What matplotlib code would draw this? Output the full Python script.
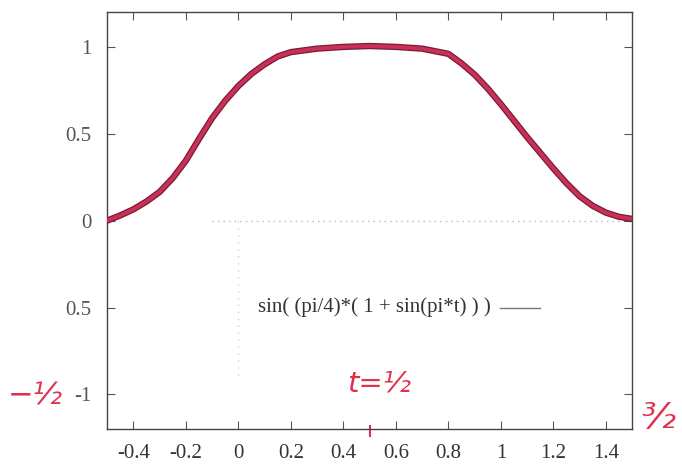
import matplotlib
matplotlib.use("Agg")
import matplotlib.pyplot as plt

# values
t_vals = [-0.5, -0.45, -0.4, -0.35, -0.3, -0.25, -0.2, -0.15, -0.1, -0.05, 0.0,
          0.05, 0.1, 0.15, 0.2, 0.3, 0.4, 0.5, 0.6, 0.7, 0.8, 0.85, 0.9, 0.95,
          1.0, 1.05, 1.1, 1.15, 1.2, 1.25, 1.3, 1.35, 1.4, 1.45, 1.5]
y_vals = [0.0, 0.03, 0.065, 0.11, 0.165, 0.245, 0.345, 0.47, 0.59, 0.69, 0.775,
          0.845, 0.90, 0.945, 0.97, 0.99, 1.0, 1.005, 1.0, 0.99, 0.96, 0.905, 0.84, 0.76,
          0.67, 0.575, 0.48, 0.39, 0.30, 0.215, 0.14, 0.085, 0.046, 0.022, 0.01]
x_ticks = [-0.4, -0.2, 0, 0.2, 0.4, 0.6, 0.8, 1, 1.2, 1.4]
x_ticklabels = ["-0.4", "-0.2", "0", "0.2", "0.4", "0.6", "0.8", "1", "1.2", "1.4"]
y_ticks = [1, 0.5, 0, -0.5, -1]
y_ticklabels = ["1", "0.5", "0", "0.5", "-1"]
legend_label = "sin( (pi/4)*( 1 + sin(pi*t) ) )"

serif = ["Liberation Serif", "DejaVu Serif"]

fig = plt.figure(figsize=(6.82, 4.67), dpi=100)
ax = fig.add_axes([0.157, 0.081, 0.770, 0.893])

# faint zero axes
ax.plot([-0.1, 1.5], [0, 0], color="#b8b8b8", lw=1.0, ls=(0, (1, 3)), zorder=1)
ax.plot([0, 0], [0, -0.9], color="#d0d0d0", lw=1.0, ls=(0, (1, 4)), zorder=1)

# curve
ax.plot(t_vals, y_vals, color="#7a1c35", lw=4.6, solid_capstyle="round",
        solid_joinstyle="round", zorder=3)
ax.plot(t_vals, y_vals, color="#d8345e", lw=2.8, solid_capstyle="round",
        solid_joinstyle="round", zorder=4, alpha=0.85)

ax.set_xlim(-0.5, 1.5)
ax.set_ylim(-1.2, 1.2)
ax.set_xticks(x_ticks)
ax.set_xticklabels(x_ticklabels, family=serif, fontsize=15, color="#333333")
ax.set_yticks(y_ticks)
ax.set_yticklabels(y_ticklabels, family=serif, fontsize=15, color="#555555")
ax.tick_params(direction="in", length=6, width=0.8, color="#555555",
               top=True, right=True, pad=11)
for s in ax.spines.values():
    s.set_color("#444444")
    s.set_linewidth(1.0)

# legend (gnuplot style key)
ax.text(0.96, -0.5, legend_label, family=serif, fontsize=15, color="#333333",
        ha="right", va="center")
ax.plot([0.997, 1.15], [-0.5, -0.5], color="#777777", lw=1.0)

# handwritten red annotations
red = "#e0304e"
fig.text(8 / 682, 1 - 396 / 467, "−½", color=red, fontsize=22, style="italic",
         ha="left", va="center")
fig.text(347 / 682, 1 - 384 / 467, "t=½", color=red, fontsize=21, style="italic",
         ha="left", va="center")
fig.text(641 / 682, 1 - 418 / 467, "³⁄₂", color=red, fontsize=26, style="italic",
         ha="left", va="center")
ax.plot([0.5, 0.5], [-1.18, -1.24], color=red, lw=1.5, clip_on=False)

fig.savefig("out.png", dpi=100)
